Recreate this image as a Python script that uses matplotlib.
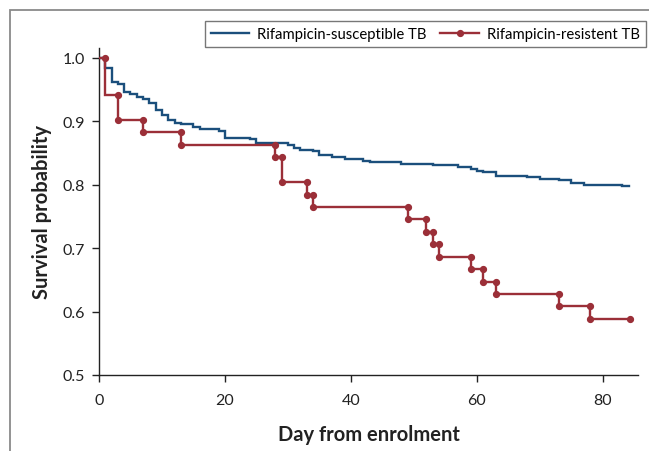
import numpy as np
import matplotlib
matplotlib.use("Agg")
import matplotlib.pyplot as plt
from matplotlib.lines import Line2D
from matplotlib.patches import Rectangle

plt.rcParams["font.family"] = ["Lato", "DejaVu Sans"]

# =========================
# DATA
# =========================
sus_days = [1, 2, 3, 4, 5, 6, 7, 8, 9, 10, 11, 12, 13, 15, 16, 19, 20, 24, 25,
            30, 31, 32, 34, 35, 37, 39, 42, 43, 48, 53, 57, 59, 60, 61, 63, 68,
            70, 73, 75, 77, 83]
sus_surv = [0.983, 0.962, 0.958, 0.945, 0.942, 0.938, 0.934, 0.929, 0.917,
            0.909, 0.901, 0.897, 0.895, 0.891, 0.888, 0.884, 0.874, 0.871,
            0.866, 0.862, 0.858, 0.855, 0.852, 0.846, 0.843, 0.840, 0.837,
            0.835, 0.833, 0.831, 0.828, 0.825, 0.821, 0.819, 0.814, 0.812,
            0.809, 0.807, 0.803, 0.800, 0.797]
sus_end = 84.2

res_days = [1, 3, 7, 13, 28, 29, 33, 34, 49, 52, 53, 54, 59, 61, 63, 73, 78]
res_surv = [0.941, 0.902, 0.882, 0.863, 0.843, 0.804, 0.784, 0.765, 0.745,
            0.725, 0.706, 0.686, 0.667, 0.647, 0.627, 0.608, 0.588]
res_end = 84.3

labels = ["Rifampicin-susceptible TB", "Rifampicin-resistent TB"]

BLUE = "#1b4f7c"
RED = "#9b2f38"
TXT = "#222222"


def step_path(days, surv, end):
    xs, ys = [0], [1.0]
    prev = 1.0
    for t, s in zip(days, surv):
        xs += [t, t]
        ys += [prev, s]
        prev = s
    xs.append(end)
    ys.append(prev)
    return np.array(xs), np.array(ys)


fig = plt.figure(figsize=(6.49, 4.52), dpi=100)
ax = fig.add_axes([99 / 649, 1 - 376 / 452, (638 - 99) / 649, (376 - 49) / 452])

# outer frame
fig.patches.append(Rectangle((10 / 649, -0.2), 1.2, 1.2 - 11 / 452,
                             transform=fig.transFigure, fill=False,
                             edgecolor="#8a8a8a", linewidth=1.3))

# susceptible
x, y = step_path(sus_days, sus_surv, sus_end)
ax.plot(x, y, color=BLUE, lw=1.7, solid_joinstyle="miter", zorder=2)

# resistant
x, y = step_path(res_days, res_surv, res_end)
ax.plot(x, y, color=RED, lw=1.7, solid_joinstyle="miter", zorder=3)
# markers on the step corners
mk = [i for i in range(1, len(x)) if i != 2]
ax.plot(x[mk], y[mk], ls="none", marker="o", ms=4.2, color=RED, zorder=4)

ax.set_xlim(0, 85.6)
ax.set_ylim(0.5, 1.015)
ax.set_xticks([0, 20, 40, 60, 80])
ax.set_yticks([0.5, 0.6, 0.7, 0.8, 0.9, 1.0])
ax.set_yticklabels(["0.5", "0.6", "0.7", "0.8", "0.9", "1.0"])

for s in ["top", "right"]:
    ax.spines[s].set_visible(False)
for s in ["left", "bottom"]:
    ax.spines[s].set_color(TXT)
    ax.spines[s].set_linewidth(1.0)

ax.tick_params(direction="out", length=5, width=1, labelsize=11.5,
               colors=TXT)
ax.tick_params(axis="x", pad=8)
ax.tick_params(axis="y", pad=5)

ax.set_xlabel("Day from enrolment", fontsize=14.5, fontweight="bold",
              color=TXT, labelpad=12)
ax.set_ylabel("Survival probability", fontsize=14.5, fontweight="bold",
              color=TXT, labelpad=8)

handles = [
    Line2D([], [], color=BLUE, lw=1.7),
    Line2D([], [], color=RED, lw=1.7, marker="o", ms=4.2),
]
leg = fig.legend(handles, labels, loc="upper right", ncol=2,
                 bbox_to_anchor=(646 / 649, 1 - 22 / 452),
                 bbox_transform=fig.transFigure, fontsize=10.7,
                 frameon=True, fancybox=False, borderaxespad=0,
                 handlelength=2.6, handletextpad=0.55, columnspacing=0.9,
                 borderpad=0.4, numpoints=1)
leg.get_frame().set_edgecolor("#555555")
leg.get_frame().set_linewidth(1.0)

fig.savefig("out.png", dpi=100)
